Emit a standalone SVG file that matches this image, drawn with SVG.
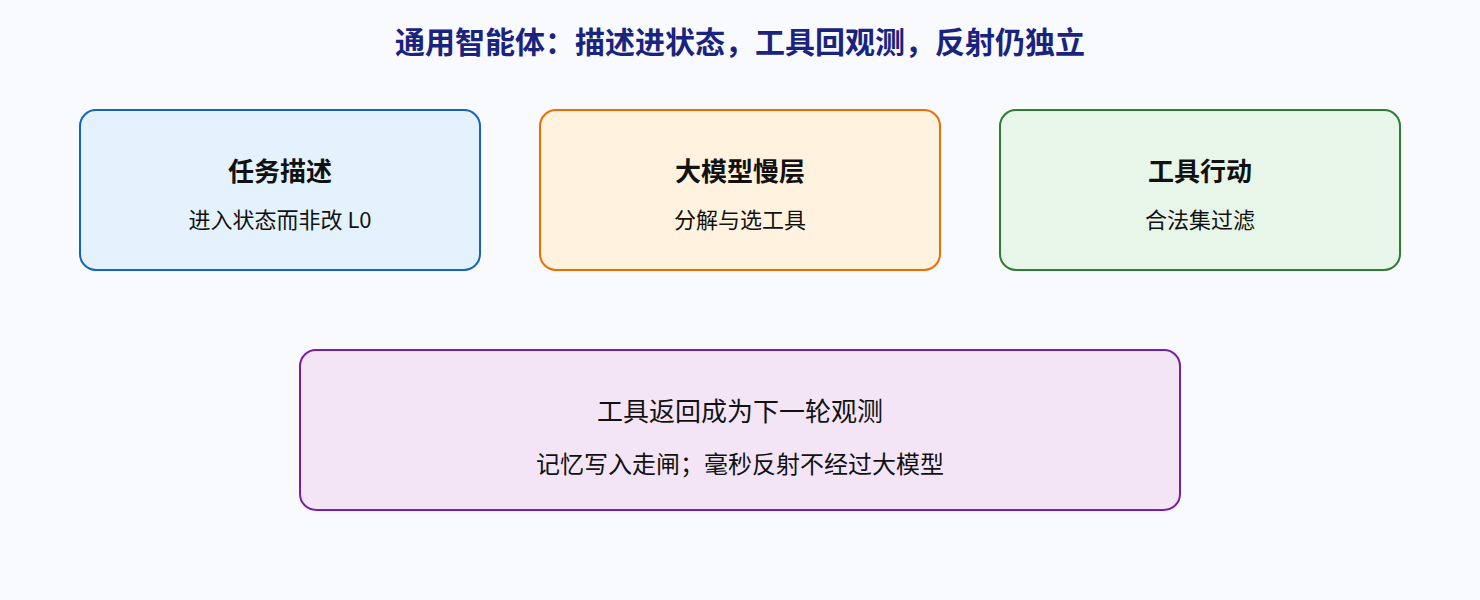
<svg xmlns="http://www.w3.org/2000/svg" width="1480" height="600" viewBox="0 0 1480 600">
<style>
text{font-family:"Noto Sans CJK SC","Noto Sans",sans-serif;text-anchor:middle;fill:#111}
.title{font-size:30px;font-weight:bold;fill:#1a237e}
.h{font-size:26px;font-weight:bold}
.s{font-size:22px}
.b1{font-size:26px}
.b2{font-size:24px}
rect{stroke-width:2}
</style>
<rect width="1480" height="600" fill="#f8fafd"/>
<text class="title" x="740" y="53">通用智能体：描述进状态，工具回观测，反射仍独立</text>
<g id="task">
<rect x="80" y="110" width="400" height="160" rx="16" fill="#e3f2fd" stroke="#1565c0"/>
<text class="h" x="280" y="181">任务描述</text>
<text class="s" x="280" y="228">进入状态而非改 L0</text>
</g>
<g id="llm">
<rect x="540" y="110" width="400" height="160" rx="16" fill="#fff3e0" stroke="#ef6c00"/>
<text class="h" x="740" y="181">大模型慢层</text>
<text class="s" x="740" y="228">分解与选工具</text>
</g>
<g id="tool">
<rect x="1000" y="110" width="400" height="160" rx="16" fill="#e8f5e9" stroke="#2e7d32"/>
<text class="h" x="1200" y="181">工具行动</text>
<text class="s" x="1200" y="228">合法集过滤</text>
</g>
<g id="obs">
<rect x="300" y="350" width="880" height="160" rx="16" fill="#f3e5f5" stroke="#7b1fa2"/>
<text class="b1" x="740" y="421">工具返回成为下一轮观测</text>
<text class="b2" x="740" y="473">记忆写入走闸；毫秒反射不经过大模型</text>
</g>
<g id="connectors"></g>
</svg>
